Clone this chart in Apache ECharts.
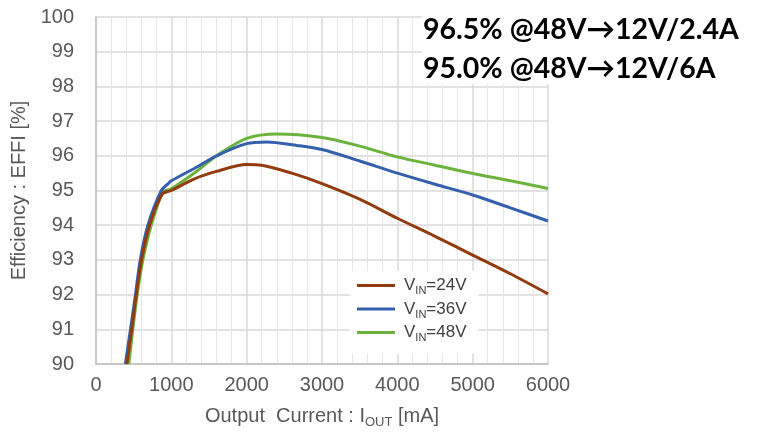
<!DOCTYPE html>
<html>
<head>
<meta charset="utf-8">
<script src="https://cdn.jsdelivr.net/npm/echarts@6/dist/echarts.min.js"></script>
<style>
html, body { margin: 0; padding: 0; background: #fff; }
#chart { width: 762px; height: 435px; }
</style>
</head>
<body>
<div id="chart"></div>
<script>
// efficiency curves (mA, %)
var cur24 = [410, 475, 535, 605, 710, 880, 1000, 1300, 1600, 2000, 2200, 2600, 3000, 3500, 4000, 4500, 5000, 5500, 6000];
var eff24 = [90, 91, 92, 93, 94, 94.9, 95.0, 95.33, 95.55, 95.75, 95.73, 95.5, 95.2, 94.75, 94.2, 93.68, 93.14, 92.6, 92.02];
var cur36 = [390, 458, 524, 587, 689, 867, 960, 1000, 1333, 1600, 2000, 2267, 2667, 3000, 3500, 4000, 4500, 5000, 5500, 6000];
var eff36 = [90, 91, 92, 93, 94, 95, 95.2, 95.28, 95.67, 96.0, 96.35, 96.4, 96.3, 96.18, 95.85, 95.5, 95.18, 94.87, 94.5, 94.12];
var cur48 = [436, 489, 547, 622, 733, 889, 1000, 1333, 1600, 2000, 2400, 3000, 3500, 4000, 4500, 5000, 5500, 6000];
var eff48 = [90, 91, 92, 93, 94, 94.95, 95.05, 95.55, 96.0, 96.5, 96.63, 96.53, 96.28, 95.97, 95.73, 95.49, 95.28, 95.06];

var seriesNames = ['24V', '36V', '48V'];
var seriesColors = ['#923b0e', '#3560ae', '#6cb33e'];
var notes = ['96.5% @48V\u219212V/2.4A', '95.0% @48V\u219212V/6A'];

function pairs(xs, ys) {
	var out = [];
	for (var i = 0; i < xs.length; i++) out.push([xs[i], ys[i]]);
	return out;
}

var chart = echarts.init(document.getElementById('chart'));
var curs = [cur24, cur36, cur48];
var effs = [eff24, eff36, eff48];
var series = [];
for (var k = 0; k < 3; k++) {
	series.push({
		name: seriesNames[k],
		type: 'line',
		data: pairs(curs[k], effs[k]),
		smooth: 0.3,
		showSymbol: false,
		clip: true,
		lineStyle: { color: seriesColors[k], width: 3 },
		itemStyle: { color: seriesColors[k] },
		z: 3 - k
	});
}

var labelFont = 'Liberation Sans, Arial, sans-serif';

chart.setOption({
	animation: false,
	backgroundColor: '#fff',
	grid: { left: 96, right: 214, top: 17, bottom: 71 },
	xAxis: {
		type: 'value',
		min: 0, max: 6000, interval: 1000,
		axisLine: { show: true, lineStyle: { color: '#bfbfbf', width: 1.5 } },
		axisTick: { show: false },
		axisLabel: {
			fontSize: 20, color: '#595959', fontFamily: labelFont, margin: 11,
			formatter: function (v) { return String(v); }
		},
		splitLine: { show: true, lineStyle: { color: '#d9d9d9', width: 1.5 } },
		minorTick: { show: false, splitNumber: 5 },
		minorSplitLine: { show: true, lineStyle: { color: '#e6e6e6', width: 1 } },
		name: '{a|Output  Current : I}{s|OUT}{a| [mA]}',
		nameLocation: 'middle',
		nameGap: 40,
		nameTextStyle: {
			fontFamily: labelFont,
			rich: {
				a: { fontSize: 20, color: '#595959', fontFamily: labelFont, lineHeight: 25 },
				s: { fontSize: 13, color: '#595959', fontFamily: labelFont, verticalAlign: 'bottom', lineHeight: 13 }
			}
		}
	},
	yAxis: {
		type: 'value',
		min: 90, max: 100, interval: 1,
		axisLine: { show: true, lineStyle: { color: '#bfbfbf', width: 1.5 } },
		axisTick: { show: false },
		axisLabel: { fontSize: 20, color: '#595959', fontFamily: labelFont, margin: 22 },
		splitLine: { show: true, lineStyle: { color: '#d9d9d9', width: 1.5 } },
		name: 'Efficiency : EFFI [%]',
		nameLocation: 'middle',
		nameRotate: 90,
		nameGap: 63,
		nameTextStyle: { fontSize: 20, color: '#595959', fontFamily: labelFont }
	},
	legend: {
		orient: 'vertical',
		left: 350,
		top: 271,
		padding: [6, 12, 10, 7],
		backgroundColor: '#fff',
		icon: 'rect',
		itemWidth: 38,
		itemHeight: 3,
		itemGap: 4,
		z: 20,
		data: seriesNames,
		formatter: function (n) { return '{v|V}{s|IN}{v|=' + n + '}'; },
		textStyle: {
			padding: [0, 0, 0, 4],
			rich: {
				v: { fontSize: 17, color: '#404040', fontFamily: labelFont, lineHeight: 22 },
				s: { fontSize: 11, color: '#404040', fontFamily: labelFont, verticalAlign: 'bottom', lineHeight: 11 }
			}
		}
	},
	graphic: [
		{ type: 'rect', left: 422, top: 0, z: 50, shape: { width: 340, height: 84 }, style: { fill: '#fff' } },
		{ type: 'text', left: 423, top: 15, z: 51, style: { text: notes[0], fill: '#000', font: 'bold 28.5px Lato, sans-serif' } },
		{ type: 'text', left: 423, top: 54, z: 51, style: { text: notes[1], fill: '#000', font: 'bold 28.5px Lato, sans-serif' } }
	],
	series: series
});
</script>
</body>
</html>
